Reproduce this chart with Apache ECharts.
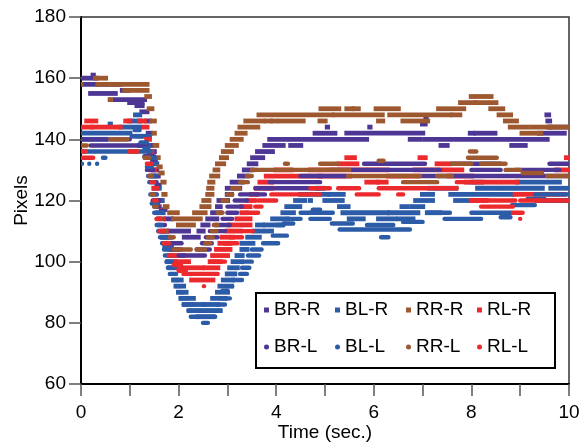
<!DOCTYPE html>
<html><head><meta charset="utf-8">
<script src="https://cdn.jsdelivr.net/npm/echarts@6/dist/echarts.min.js"></script>
<style>html,body{margin:0;padding:0;background:#fff}#c{width:579px;height:446px}</style>
</head><body><div id="c"></div>
<script>
// Series names (legend order) and colours
const seriesNames = ['BR-R', 'BL-R', 'RR-R', 'RL-R', 'BR-L', 'BL-L', 'RR-L', 'RL-L'];
const seriesColors = ['#4d3694', '#2c5ba7', '#9e582f', '#ec2a2e', '#4d3694', '#2c5ba7', '#9e582f', '#ec2a2e'];
const seriesShapes = ['rect', 'rect', 'rect', 'rect', 'circle', 'circle', 'circle', 'circle'];
const xLabelValues = [0, 2, 4, 6, 8, 10];

// Each series: runs of equal pixel value  [timeStart (s), timeEnd (s), pixels]
const brR = [[0,0.3,160],[0.25,0.25,161],[0,0.8,158],[0.2,0.7,155],[0.7,1.3,153],[0.85,0.95,156],[1.0,1.25,152],[1.15,1.25,151],[1.25,1.35,149],
[1.35,1.4,146],[1.38,1.42,142],[1.42,1.45,138],[1.43,1.5,136],[1.47,1.52,133],[1.5,1.55,130],[1.55,1.58,128],[1.56,1.6,125],[1.6,1.66,120],[1.65,1.72,117],[1.75,1.85,114],[1.82,2.2,110],[2.12,2.4,108],[2.42,2.5,110],[2.5,2.6,112],[2.6,2.78,114],[2.7,2.85,116],[2.8,2.85,118],[2.83,3.0,120],[3.0,3.08,122],[3.0,3.25,124],[3.1,3.3,126],[3.25,3.4,128],[3.35,3.5,130],[3.45,3.58,132],[3.52,3.72,134],[3.62,3.92,136],[3.77,4.14,138],[3.87,5.85,140],[4.3,4.5,138],[4.8,5.2,142],[5.05,5.05,144],[5.45,7.0,142],[5.92,5.92,144],[6.75,6.95,140],[7.0,7.05,145],[7.07,7.07,147],[7.05,9.55,140],[7.38,7.5,138],[7.98,8.03,142],[8.1,8.48,142],[8.83,9.1,138],[9.4,9.9,142],[9.55,9.58,148],[9.57,9.6,146],[9.6,10,144]];

const blR = [[0,1.0,142],[0,0.5,140],[0.6,0.6,145],[0.82,1.2,144],[1.0,1.2,146],[1.12,1.2,148],[1.05,1.4,141],[1.2,1.38,138],
[1.4,1.45,136],[1.46,1.55,132],[1.48,1.52,128],[1.5,1.6,124],[1.53,1.65,120],[1.58,1.68,116],[1.62,1.75,110],[1.67,1.8,108],[1.72,1.85,105],[1.78,1.92,100],[1.82,1.95,98],[1.9,2.05,94],[1.95,2.1,92],[2.0,2.15,90],[2.05,2.3,88],[2.12,2.5,86],[2.22,2.85,84],[2.4,2.7,82],[2.55,2.8,86],[2.7,2.95,88],[2.8,3.0,90],[2.85,3.08,92],[2.92,3.1,94],[3.0,3.15,96],[3.05,3.2,98],[3.12,3.3,100],[3.2,3.3,102],[3.3,3.4,104],[3.3,3.52,106],[3.42,3.65,108],[3.55,3.9,110],[3.62,3.72,112],[3.78,4.12,112],[3.93,4.22,114],[4.14,4.35,116],[4.22,4.48,118],[4.4,4.58,120],[4.5,5.05,122],[4.86,4.96,124],[5.1,5.37,122],[4.7,4.7,120],[5.0,5.35,120],[5.3,5.47,118],[5.37,6.27,116],[5.5,5.78,114],[6.1,6.43,114],[6.33,6.9,116],[6.52,6.8,114],[6.58,6.68,118],[6.78,7.0,118],[6.86,7.2,120],[7.0,7.2,122],[7.15,7.68,124],[7.1,7.35,116],[7.58,8.1,122],[7.68,8.0,120],[8.0,8.2,126],[8.13,9.45,124],[8.2,8.85,122],[8.95,9.8,126],[9.63,10,124],[9.35,10,120]];

const rrR = [[0,0,158],[0.3,0.5,160],[0.35,1.35,158],[0.9,1.35,156],[0.6,0.6,153],[1.35,1.4,154],[1.4,1.45,150],[1.45,1.5,146],[1.5,1.5,142],[1.52,1.55,138],[1.55,1.58,134],[1.6,1.62,131],[1.64,1.66,129],[1.68,1.7,126],[1.7,1.72,122],[1.73,1.76,118],[1.82,1.97,116],[1.9,2.44,114],[2.0,2.3,112],[2.33,2.54,116],[2.48,2.62,118],[2.52,2.62,120],[2.6,2.68,122],[2.62,2.68,124],[2.64,2.7,126],[2.68,2.8,128],[2.75,2.8,130],[2.8,2.92,132],[2.88,2.98,134],[2.92,3.08,136],[3.0,3.18,138],[3.1,3.28,140],[3.2,3.36,142],[3.26,3.62,144],[3.38,3.72,146],[3.8,3.88,146],[3.93,4.0,146],[4.08,4.55,146],[3.65,5.14,148],[4.9,5.0,146],[4.92,5.28,150],[5.2,6.17,148],[5.45,5.55,150],[5.6,5.68,150],[6.05,6.5,150],[6.1,6.18,146],[6.33,7.56,148],[6.6,7.1,146],[7.33,7.84,150],[7.62,7.76,148],[7.78,8.06,152],[8.0,8.4,154],[8.1,8.5,152],[8.4,8.64,150],[8.57,8.8,148],[8.7,8.92,146],[8.8,9.14,144],[9.04,9.42,142],[9.24,9.62,144],[9.62,9.95,144]];

const rlR = [[0,0.2,144],[0.12,0.3,146],[0.25,0.65,144],[0.75,0.8,144],[0.92,1.0,146],[1.2,1.3,146],[1.3,1.35,144],
[1.35,1.4,140],[1.4,1.45,136],[1.45,1.5,130],[1.5,1.55,124],[1.55,1.6,118],[1.6,1.68,114],[1.68,1.75,110],[1.75,1.82,106],[1.82,1.95,104],[1.82,2.1,102],[1.93,2.2,100],[2.0,2.48,98],[2.27,2.7,94],[2.54,2.8,98],[2.65,2.85,100],[2.7,3.0,102],[2.78,3.05,104],[2.85,3.05,106],[2.9,3.1,108],[3.0,3.26,110],[3.05,3.46,112],[3.2,3.46,114],[3.3,3.38,116],[3.3,3.46,118],[3.42,3.55,120],[3.5,3.6,122],[3.6,3.93,124],[3.67,3.9,126],[3.8,4.9,128],[4.0,4.3,130],[4.7,6.27,130],[4.9,5.5,128],[6.3,6.9,128],[5.3,5.65,132],[5.45,5.6,134],[5.86,6.07,126],[6.1,6.25,126],[6.85,7.8,130],[6.95,7.05,134],[7.3,7.55,132],[7.55,8.0,128],[7.9,7.9,126],[8.05,8.5,126],[8.0,8.3,120],[8.6,8.93,126],[8.9,9.9,122],[9.75,10,130],[9.95,10,134]];

const brL = [[0,1.0,140],[0.2,1.35,138],[1.3,1.5,134.5],[1.35,1.48,130],[1.38,1.5,128],[1.41,1.55,126],[1.45,1.55,122],[1.47,1.6,120],[1.5,1.6,118],[1.56,1.66,114],[1.58,1.72,112],[1.62,1.75,110],[1.66,1.88,108],[1.76,2.06,106],[1.86,2.06,104],[2.0,2.54,102],[2.37,2.64,104],[2.48,2.68,106],[2.56,2.8,108],[2.64,2.95,110],[2.75,3.05,112],[2.9,3.1,114],[3.0,3.2,116],[3.0,3.3,118],[3.15,3.4,120],[3.26,3.77,122],[3.57,3.93,124],[3.87,4.9,126],[4.0,4.9,124],[4.5,5.45,128],[5.1,7.36,130],[5.8,7.05,132],[6.95,9.55,128],[7.6,8.6,132],[8.0,8.6,130],[8.9,9.8,130],[9.6,10,132],[9.55,10,128]];

const blL = [[0,1.43,136],[0.02,0.02,132],[0.17,0.17,132],[0.33,0.33,132],[0.45,0.5,134],[1.1,1.2,143],[1.15,1.25,141],[1.22,1.35,139],[1.3,1.38,137],
[1.31,1.52,134],[1.35,1.45,131],[1.38,1.5,128],[1.4,1.5,126],[1.42,1.55,122],[1.45,1.58,119],[1.5,1.6,116],[1.55,1.65,112],[1.58,1.7,110],[1.62,1.78,108],[1.66,1.82,106],[1.7,1.85,104],[1.72,1.85,102],[1.75,1.85,100],[1.78,1.92,98],[1.82,1.95,96],[1.9,2.0,94],[1.95,2.05,92],[2.0,2.1,90],[2.05,2.2,88],[2.1,2.3,86],[2.2,2.85,84],[2.25,2.75,82],[2.5,2.6,80],[2.8,2.95,86],[2.85,3.05,88],[2.9,3.0,90.5],[3.0,3.1,92],[3.1,3.3,94],[3.26,3.4,96],[3.3,3.45,98],[3.38,3.5,100],[3.42,3.65,102],[3.5,3.7,104],[3.73,4.04,106],[3.93,4.22,108.5],[4.0,4.15,112],[4.15,4.35,112.5],[4.2,4.5,114],[4.5,4.75,116],[4.75,4.9,117],[4.7,5.16,116],[4.7,5.1,114],[5.14,5.57,112.5],[5.3,6.74,110.5],[5.86,6.4,112],[6.15,6.3,108],[6.6,7.0,113],[7.1,7.56,116],[7.45,8.2,114],[8.0,8.83,116],[8.6,8.8,114.5],[8.83,9.3,118.5],[9.15,9.5,120.5],[9.3,10,122]];

const rrL = [[0,0.12,138],[0.6,0.95,140],[1.0,1.15,136],[1.3,1.4,134],[1.4,1.45,128],[1.45,1.5,122],[1.5,1.55,118],[1.55,1.65,114],[1.65,1.75,110],[1.82,1.9,108],[1.9,2.0,104],[2.05,2.25,104],[2.37,2.54,104],[2.55,2.65,106],[2.6,2.7,108],[2.68,2.78,110],[2.72,2.8,112],[2.8,2.9,116],[2.9,3.0,120],[3.0,3.1,122],[3.1,3.25,124],[3.26,3.42,126],[3.4,3.5,128],[3.5,3.6,130],[3.57,4.9,130],[4.18,4.24,132],[4.9,5.27,132],[4.9,5.5,130],[5.47,6.95,128],[6.1,6.2,133],[6.6,7.3,126],[7.3,7.6,128],[7.6,8.0,132],[7.97,8.1,136],[7.93,8.52,134],[8.2,8.7,132],[8.7,9.0,130],[9.05,9.45,129],[9.55,10,128]];

const rlL = [[0,0.25,134],[0,0.1,136],[1.0,1.15,136],[1.35,1.45,132],[1.45,1.5,126],[1.5,1.55,120],[1.55,1.62,114],[1.6,1.7,110],[1.7,1.8,106],[1.8,1.9,102],[1.9,2.05,99],[2.0,2.15,97],[2.1,2.8,96],[2.52,2.52,92],[2.65,2.95,100],[2.93,3.05,106],[3.0,3.2,106],[3.05,3.3,108],[3.3,3.52,110],[3.42,3.63,116],[3.57,3.7,118],[3.63,4.0,120],[3.9,4.9,122],[4.7,5.1,124],[5.27,5.7,124],[5.65,6.1,122],[6.1,7.15,124],[6.5,6.6,122],[7.2,7.7,124],[7.7,8.0,126],[8.0,8.9,120],[8.2,8.85,118],[8.85,9.05,116],[9.0,9.0,114],[9.0,9.35,120],[9.35,10,120]];

const seriesRuns = [brR, blR, rrR, rlR, brL, blL, rrL, rlL];

const FONT = 'Liberation Sans, Arial, Helvetica, sans-serif';

function makeRender(round) {
  return function (params, api) {
    const t0 = api.value(0), t1 = api.value(1), v = api.value(2);
    const a = api.coord([t0, v]);
    const b = api.coord([t1, v]);
    const h = round ? 4.4 : 4.8;
    const pad = round ? 2.2 : 2.6;
    return {
      type: 'rect',
      shape: { x: a[0] - pad, y: a[1] - h / 2, width: b[0] - a[0] + 2 * pad, height: h, r: round ? 2.2 : 0 },
      style: { fill: api.visual('color') }
    };
  };
}

const chart = echarts.init(document.getElementById('c'), null, { renderer: 'canvas' });
chart.setOption({
  animation: false,
  backgroundColor: '#fff',
  grid: { left: 81, right: 10, top: 17, bottom: 62, containLabel: false, outerBoundsMode: 'none',
    show: true, borderColor: '#333', borderWidth: 1.5, backgroundColor: 'transparent' },
  xAxis: {
    type: 'value', min: 0, max: 10, interval: 1,
    name: 'Time (sec.)', nameLocation: 'middle', nameGap: 39, nameMoveOverlap: false,
    nameTextStyle: { fontSize: 19, color: '#000', fontFamily: FONT },
    axisLine: { show: true, onZero: false, lineStyle: { color: '#000', width: 2 } },
    axisTick: { show: true, length: 12, lineStyle: { color: '#555', width: 1.5 } },
    axisLabel: { fontSize: 19, color: '#000', fontFamily: FONT, margin: 19,
      formatter: v => (xLabelValues.indexOf(v) >= 0 ? String(v) : '') },
    splitLine: { show: false }
  },
  yAxis: {
    type: 'value', min: 60, max: 180, interval: 20,
    name: 'Pixels', nameLocation: 'middle', nameGap: 50, nameRotate: 90, nameMoveOverlap: false,
    nameTextStyle: { fontSize: 19, color: '#000', fontFamily: FONT },
    axisLine: { show: true, onZero: false, lineStyle: { color: '#000', width: 2 } },
    axisTick: { show: true, length: 12, lineStyle: { color: '#555', width: 1.5 } },
    axisLabel: { fontSize: 19, color: '#000', fontFamily: FONT, margin: 15 },
    splitLine: { show: false }
  },
  legend: {
    left: 256, top: 293, orient: 'horizontal', width: 280,
    itemWidth: 5, itemHeight: 5, itemGap: 9,
    padding: [3, 16, 7, 8],
    borderColor: '#000', borderWidth: 2, backgroundColor: '#fff',
    selectedMode: false,
    textStyle: { fontSize: 19, color: '#000', fontFamily: FONT, width: 52, lineHeight: 28 },
    data: seriesNames.map((n, i) => ({ name: n, icon: seriesShapes[i] }))
  },
  series: seriesNames.map((n, i) => ({
    type: 'custom', name: n,
    renderItem: makeRender(seriesShapes[i] === 'circle'),
    data: seriesRuns[i],
    encode: { x: [0, 1], y: 2 },
    itemStyle: { color: seriesColors[i] },
    clip: true
  }))
});
</script>
</body></html>
